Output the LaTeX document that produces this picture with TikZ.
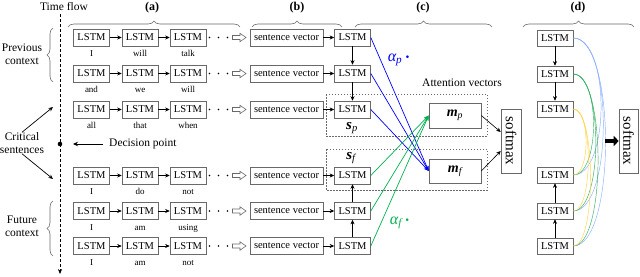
\documentclass[tikz,border=0pt]{standalone}
\usepackage{fontspec}
\setmainfont{Liberation Serif}
\usetikzlibrary{arrows.meta,decorations.pathreplacing,calc}
\definecolor{boxgray}{RGB}{105,105,105}
\definecolor{attgreen}{RGB}{0,176,80}
\definecolor{attblue}{RGB}{0,0,255}
\definecolor{lblue}{RGB}{140,175,255}
\definecolor{lgreen}{RGB}{50,175,95}
\definecolor{lyellow}{RGB}{255,212,70}
\begin{document}
\begin{tikzpicture}[x=1pt,y=-1pt,
  lstm/.style={draw=boxgray, fill=white, line width=0.6pt, minimum width=36pt, minimum height=17pt, inner sep=0pt, font=\fontsize{10.5}{12}\selectfont},
  svec/.style={lstm, minimum width=73pt},
  word/.style={font=\fontsize{9}{10}\selectfont, inner sep=0pt, anchor=base},
  lab/.style={font=\fontsize{11.5}{13}\selectfont, inner sep=0pt, align=center},
  head/.style={font=\fontsize{12}{13}\selectfont\bfseries, inner sep=0pt},
  arr/.style={-{Stealth[length=4.5pt,width=4pt]}, line width=0.6pt},
  brc/.style={decorate, decoration={brace, amplitude=6pt}, draw=boxgray, line width=0.6pt},
  dbox/.style={draw=boxgray, dash pattern=on 1.5pt off 1.5pt, line width=0.5pt},
  blueline/.style={attblue, line width=0.7pt, -{Stealth[length=5pt,width=4pt]}},
  greenline/.style={attgreen, line width=0.7pt, -{Stealth[length=5pt,width=4pt]}},
  bigbox/.style={draw=boxgray, fill=white, line width=0.6pt, inner sep=0pt},
  alab/.style={inner sep=0pt, font=\fontsize{16}{16}\selectfont\itshape},
  curve/.style={line width=0.45pt}]
\useasboundingbox (0,0) rectangle (640,276);

% time axis
\node[lab, font=\fontsize{11.5}{13}\selectfont] (tf) at (64,6.5) {Time flow};
\coordinate (ttop) at (60,14);
\coordinate (tbot) at (60,274);
\draw[black, line width=0.6pt, dash pattern=on 3pt off 2pt, -{Stealth[length=5pt,width=4pt]}] (ttop) -- (tbot);
\fill (60,144) circle (2.3pt);
\node[lab, anchor=west] (dp) at (109,144) {Decision point};
\coordinate (dpt) at (73,144);
\draw[-{Stealth[length=5pt,width=4.5pt]}, line width=0.8pt] (dp.west) ++(-6,0) -- (dpt);

% left labels
\node[lab] (prev) at (22,54) {Previous\\context};
\node[lab] (crit) at (22,143) {Critical\\sentences};
\node[lab] (fut) at (22,226.5) {Future\\context};
\draw[brc] (53,82) -- (53,28);
\draw[brc] (53,256) -- (53,201);
\coordinate (c1) at (53,107);
\coordinate (c2) at (53,179);
\draw[arr, line width=0.7pt] (crit.north) -- (c1);
\draw[arr, line width=0.7pt] (crit.south) -- (c2);

% column braces
\draw[brc] (68,27) -- (240,27);
\draw[brc] (252,27) -- (342,27);
\draw[brc] (355,27) -- (492,27);
\draw[brc] (523,27) -- (634,27);
\node[head] (ha) at (152,8) {(a)};
\node[head] (hb) at (297,8) {(b)};
\node[head] (hc) at (423,8) {(c)};
\node[head] (hd) at (578,8) {(d)};

% dashed boxes
\draw[dbox] (326,94) rectangle (487,136);
\draw[dbox] (326,149) rectangle (487,190);

% rows
\foreach \r/\y/\wa/\wb/\wc in {1/37.5/I/will/talk, 2/73.5/and/we/will, 3/109.5/all/that/when, 4/175.5/I/do/not, 5/211/I/am/using, 6/246/I/am/not} {
  \node[lstm] (a\r1) at (91.5,\y) {LSTM};
  \node[lstm] (a\r2) at (140,\y) {LSTM};
  \node[lstm] (a\r3) at (188,\y) {LSTM};
  \draw[arr] (a\r1) -- (a\r2);
  \draw[arr] (a\r2) -- (a\r3);
  \node[word] (w\r1) at (91.5,\y+19) {\wa};
  \node[word] (w\r2) at (140,\y+19) {\wb};
  \node[word] (w\r3) at (188,\y+19) {\wc};
  \fill (209.5,\y) circle (0.9pt) (218.5,\y) circle (0.9pt) (227.5,\y) circle (0.9pt);
  \draw[boxgray, line width=0.6pt, fill=white] (232.5,\y-2) -- (240,\y-2) -- (240,\y-4.2) -- (246,\y) -- (240,\y+4.2) -- (240,\y+2) -- (232.5,\y+2) -- cycle;
  \node[svec] (sv\r) at (286.5,\y) {sentence vector};
  \node[lstm] (b\r) at (352.5,\y) {LSTM};
  \draw[arr] (sv\r) -- (b\r);
}
\draw[arr] (b1) -- (b2);
\draw[arr] (b2) -- (b3);
\draw[arr] (b6) -- (b5);
\draw[arr] (b5) -- (b4);

\node[inner sep=0pt, font=\fontsize{15}{15}\selectfont\bfseries\itshape] (sp) at (352,128) {s\textsubscript{\mdseries p}};
\node[inner sep=0pt, font=\fontsize{15}{15}\selectfont\bfseries\itshape] (sf) at (351,158) {s\textsubscript{\mdseries f}};

% attention
\node[lab] (attv) at (462,83) {Attention vectors};
\node[bigbox, minimum width=52pt, minimum height=25pt, font=\fontsize{14}{14}\selectfont\bfseries\itshape] (mp) at (455,115.5) {m\textsubscript{\mdseries p}};
\node[bigbox, minimum width=52pt, minimum height=24pt, font=\fontsize{14}{14}\selectfont\bfseries\itshape] (mf) at (455,171) {m\textsubscript{\mdseries f}};
\node[bigbox, minimum width=20pt, minimum height=64pt] (smc) at (511,141) {};
\node[rotate=-90, inner sep=0pt, font=\fontsize{15}{15}\selectfont] (smct) at (smc) {softmax};
\draw[arr] (mp.east) -- ($(smc.west)+(0,-9)$);
\draw[arr] (mf.east) -- ($(smc.west)+(0,10)$);

\foreach \r in {1,2,3} {\draw[blueline] (b\r.east) -- (mf.west);}
\foreach \r in {4,5,6} {\draw[greenline] (b\r.east) -- (mp.west);}
\node[alab, text=attblue] (ap) at (399,60) {α\textsubscript{p}\,\raisebox{-1.5pt}{\upshape\bfseries ·}};
\node[alab, text=attgreen] (af) at (400,223) {α\textsubscript{f}\,\raisebox{-1.5pt}{\upshape\bfseries ·}};

% (d)
\foreach \i/\y in {1/38, 2/74, 3/109, 4/175, 5/211, 6/246} {
  \node[lstm, minimum height=16pt] (d\i) at (555,\y) {LSTM};
}
\draw[arr] (d1) -- (d2);
\draw[arr] (d2) -- (d3);
\draw[arr] (d6) -- (d5);
\draw[arr] (d5) -- (d4);
\foreach \i/\c/\b in {1/lblue/37, 2/lgreen/27, 3/lyellow/17} {
  \foreach \j/\k in {4/0, 5/3, 6/6} {
    \pgfmathsetmacro{\dd}{\b+\k}
    \draw[curve, \c] (d\i.east) .. controls +(\dd,0) and +(\dd,0) .. (d\j.east);
  }
}
\node[bigbox, minimum width=19pt, minimum height=64pt] (smd) at (628.5,141) {};
\node[rotate=-90, inner sep=0pt, font=\fontsize{15}{15}\selectfont] (smdt) at (smd) {softmax};
\coordinate (thk) at (605,141);
\draw[-{Triangle[length=5pt,width=10pt]}, line width=3.5pt] (thk) -- (smd.west);
\end{tikzpicture}
\end{document}
